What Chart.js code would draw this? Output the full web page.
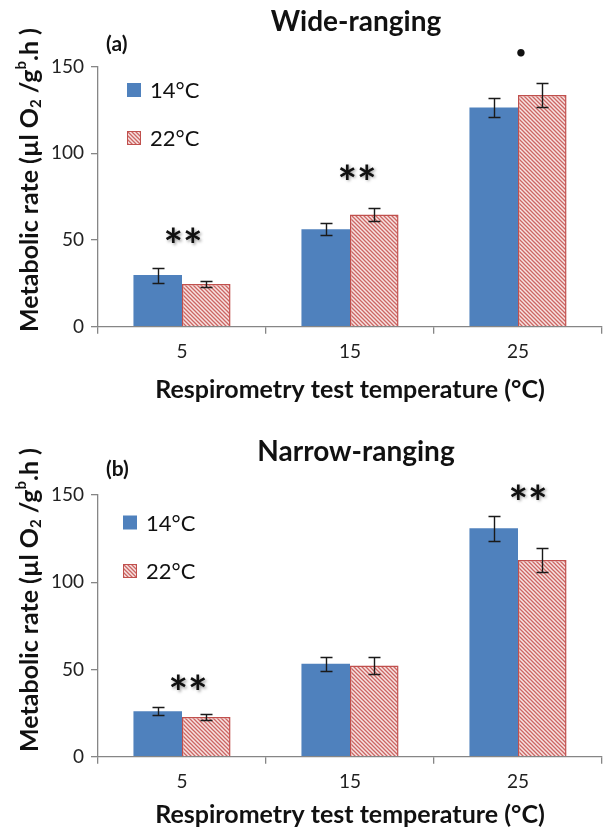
<!DOCTYPE html>
<html>
<head>
<meta charset="utf-8">
<script src="https://cdn.jsdelivr.net/npm/chart.js@4.4.0/dist/chart.umd.min.js"></script>
<style>
  html, body { margin: 0; padding: 0; background: #fff; }
  canvas { display: block; }
</style>
</head>
<body>
<canvas id="chartA" width="604" height="405"></canvas>
<canvas id="chartB" width="604" height="425"></canvas>
<script>
// --- Data ---
const temperatures = ["5", "15", "25"];
const series = ["14°C", "22°C"];
const yTicks = [0, 50, 100, 150];

const wide14 = [29.8, 56.2, 126.4];
const wide22 = [24.6, 64.8, 133.7];
const wideErr14 = [4.3, 3.5, 5.3];
const wideErr22 = [1.8, 3.9, 7.0];
const wideMarks = ["**", "**", "•"];
const wideMarksY = [51, 87.5, 158];

const narrow14 = [26.0, 53.3, 130.9];
const narrow22 = [22.7, 52.3, 112.7];
const narrowErr14 = [2.3, 4.1, 7.3];
const narrowErr22 = [1.6, 4.9, 6.9];
const narrowMarks = ["**", "", "**"];
const narrowMarksY = [40.8, null, 150];

const FONT = "Lato";
const BLUE = "#4f81bd";
const RED = "#c0504d";
const AXIS = "#868686";

// --- Hatch pattern for 22°C ---
function makeHatch() {
    const c = document.createElement("canvas");
    c.width = 4; c.height = 4;
    const g = c.getContext("2d");
    g.fillStyle = "#f7e3e2";
    g.fillRect(0, 0, 4, 4);
    g.strokeStyle = "#cc6663";
    g.lineWidth = 1.3;
    g.beginPath();
    g.moveTo(-1, -1); g.lineTo(5, 5);
    g.moveTo(-1, 3); g.lineTo(1, 5);
    g.moveTo(3, -1); g.lineTo(5, 1);
    g.stroke();
    return g.createPattern(c, "repeat");
}
const hatch = makeHatch();

// --- Plugin: titles, legend, error bars, marks ---
const extras = {
    id: "extras",
    afterDatasetsDraw(chart, args, o) {
        const ctx = chart.ctx;
        const ys = chart.scales.y;
        const area = chart.chartArea;
        ctx.save();

        // error bars
        ctx.strokeStyle = "#1a1a1a";
        ctx.lineWidth = 1.4;
        chart.data.datasets.forEach((ds, i) => {
            chart.getDatasetMeta(i).data.forEach((bar, j) => {
                const v = ds.data[j], e = ds.errors[j];
                const t = Math.round(ys.getPixelForValue(v + e)) + 0.5;
                const b = Math.round(ys.getPixelForValue(v - e)) + 0.5;
                const x = Math.round(bar.x) + 0.5;
                ctx.beginPath();
                ctx.moveTo(x, t); ctx.lineTo(x, b);
                ctx.moveTo(x - 6, t); ctx.lineTo(x + 6, t);
                ctx.moveTo(x - 6, b); ctx.lineTo(x + 6, b);
                ctx.stroke();
            });
        });

        // significance marks
        const xs = chart.scales.x;
        ctx.textAlign = "center";
        ctx.textBaseline = "middle";
        ctx.fillStyle = "#111";
        o.marks.forEach((m, i) => {
            if (!m) return;
            const x = xs.getPixelForValue(i) + o.markDx[i];
            const y = ys.getPixelForValue(o.marksY[i]);
            ctx.save();
            if (m === "•") {
                ctx.font = `bold 17px ${FONT}`;
            } else {
                ctx.font = `bold 46px ${FONT}`;
                ctx.shadowColor = "rgba(0,0,0,0.35)";
                ctx.shadowBlur = 3;
                ctx.shadowOffsetX = 1.5;
                ctx.shadowOffsetY = 1.5;
            }
            ctx.fillText(m, x, y + (m === "•" ? 0 : 9));
            ctx.restore();
        });

        // legend
        ctx.font = `22px ${FONT}`;
        ctx.textAlign = "left";
        chart.data.datasets.forEach((ds, i) => {
            const cy = o.legendY[i];
            ctx.fillStyle = ds.backgroundColor;
            ctx.fillRect(o.legendX, cy - 7, 14, 14);
            if (ds.borderWidth) {
                ctx.strokeStyle = ds.borderColor;
                ctx.lineWidth = 1;
                ctx.strokeRect(o.legendX + 0.5, cy - 6.5, 13, 13);
            }
            ctx.fillStyle = "#111";
            ctx.fillText(ds.label, o.legendX + 23, cy + 1);
        });

        // title and panel tag
        ctx.font = `bold 28px ${FONT}`;
        ctx.textAlign = "center";
        ctx.fillText(o.title, (area.left + area.right) / 2 + 6, o.titleY);
        ctx.font = `bold 21px ${FONT}`;
        ctx.textAlign = "left";
        ctx.fillText(o.tag, 106, o.tagY);

        // y title with sub/superscript
        const parts = [
            ["Metabolic rate (µl O", 25, 0],
            ["2", 15, 6],
            [" /g", 25, 0],
            ["b", 15, -9],
            [".h )", 25, 0]
        ];
        ctx.translate(o.yTitleX, o.yTitleY);
        ctx.rotate(-Math.PI / 2);
        let total = 0;
        parts.forEach(p => { ctx.font = `bold ${p[1]}px ${FONT}`; total += ctx.measureText(p[0]).width; });
        let px = -total / 2;
        parts.forEach(p => {
            ctx.font = `bold ${p[1]}px ${FONT}`;
            ctx.fillText(p[0], px, p[2]);
            px += ctx.measureText(p[0]).width;
        });
        ctx.restore();
    }
};

// --- Build a panel ---
function makeChart(id, d14, d22, e14, e22, o) {
    return new Chart(document.getElementById(id), {
        type: "bar",
        data: {
            labels: temperatures,
            datasets: [
                { label: series[0], data: d14, errors: e14, backgroundColor: BLUE, borderWidth: 0,
                  categoryPercentage: 0.578, barPercentage: 1 },
                { label: series[1], data: d22, errors: e22, backgroundColor: hatch, borderColor: RED, borderWidth: 1.5,
                  categoryPercentage: 0.578, barPercentage: 1 }
            ]
        },
        options: {
            responsive: false,
            animation: false,
            layout: { padding: { top: o.top, left: 48, right: 2, bottom: 0 } },
            plugins: { legend: { display: false }, tooltip: { enabled: false }, extras: o },
            scales: {
                x: {
                    grid: { offset: true, drawOnChartArea: false, tickLength: 7, color: AXIS, lineWidth: 1.3 },
                    border: { color: AXIS, width: 1.3 },
                    ticks: { color: "#222", font: { family: FONT, size: 19 }, padding: 7 },
                    title: { display: true, text: "Respirometry test temperature (°C)", color: "#111",
                             font: { family: FONT, size: 25, weight: "bold" }, padding: { top: 2, bottom: 0 } },
                    afterFit: s => { s.height = o.xHeight; }
                },
                y: {
                    min: 0, max: 150,
                    afterBuildTicks: s => { s.ticks = yTicks.map(v => ({ value: v })); },
                    grid: { drawOnChartArea: false, tickLength: 7, color: AXIS, lineWidth: 1.3 },
                    border: { color: AXIS, width: 1.3 },
                    ticks: { color: "#222", font: { family: FONT, size: 19 }, padding: 7 },
                    afterFit: s => { s.width = 50; }
                }
            }
        },
        plugins: [extras]
    });
}

makeChart("chartA", wide14, wide22, wideErr14, wideErr22, {
    top: 66.7, xHeight: 78.3,
    title: "Wide-ranging", titleY: 22, tag: "(a)", tagY: 44,
    legendX: 127, legendY: [90, 138],
    marks: wideMarks, marksY: wideMarksY, markDx: [1, 7, 3],
    yTitleX: 30, yTitleY: 180
});

makeChart("chartB", narrow14, narrow22, narrowErr14, narrowErr22, {
    top: 90, xHeight: 73.3,
    title: "Narrow-ranging", titleY: 47, tag: "(b)", tagY: 64,
    legendX: 123, legendY: [117.5, 166],
    marks: narrowMarks, marksY: narrowMarksY, markDx: [6, 0, 10],
    yTitleX: 30, yTitleY: 195
});
</script>
</body>
</html>
